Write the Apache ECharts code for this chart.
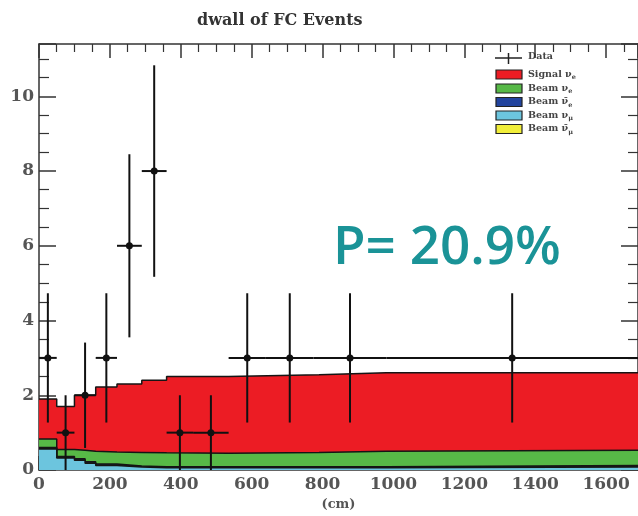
<!DOCTYPE html>
<html>
<head>
<meta charset="utf-8">
<script src="https://cdn.jsdelivr.net/npm/echarts@6/dist/echarts.min.js"></script>
<style>
  html, body { margin: 0; padding: 0; background: #fff; }
  #chart { width: 638px; height: 516px; }
</style>
</head>
<body>
<div id="chart"></div>
<script>
// Observed events: bin edges, counts and Poisson errors
const dataEdges = [0, 50, 100, 160, 220, 290, 360, 435, 535, 640, 775, 980, 1690];
const dataCounts = [3, 1, 2, 3, 6, 8, 1, 1, 3, 3, 3, 3];
const dataErrors = [1.73, 1, 1.41, 1.73, 2.45, 2.83, 1, 1, 1.73, 1.73, 1.73, 1.73];

// Predicted components (stacked, bottom to top), one value per MC bin
const mcEdges = [0, 50, 100, 130, 160, 220, 290, 360, 535, 790, 980, 1690];
const beamNumu    = [0.56, 0.32, 0.26, 0.18, 0.12, 0.08, 0.06, 0.06, 0.06, 0.06, 0.08];
const beamNumubar = [0.01, 0.01, 0.01, 0.01, 0.01, 0.01, 0.01, 0.01, 0.01, 0.01, 0.01];
const beamNuebar  = [0.03, 0.03, 0.03, 0.03, 0.03, 0.02, 0.02, 0.02, 0.02, 0.02, 0.03];
const beamNue     = [0.23, 0.19, 0.23, 0.28, 0.32, 0.36, 0.37, 0.36, 0.38, 0.41, 0.41];
const signalNue   = [1.07, 1.15, 1.47, 1.50, 1.74, 1.83, 1.94, 2.05, 2.08, 2.10, 2.07];

// Axis ticks
const xTicks = [0, 200, 400, 600, 800, 1000, 1200, 1400, 1600];
const yTicks = [0, 2, 4, 6, 8, 10];

const layers = [
  { name: 'Beam numu',    values: beamNumu,    color: '#6cc5de' },
  { name: 'Beam numubar', values: beamNumubar, color: '#f1ee3a' },
  { name: 'Beam nuebar',  values: beamNuebar,  color: '#22449e' },
  { name: 'Beam nue',     values: beamNue,     color: '#57b947' },
  { name: 'Signal nue',   values: signalNue,   color: '#ec1c24' }
];

// Cumulative tops for each layer, drawn as stepped filled outlines
const cumulative = [];
let running = mcEdges.slice(0, -1).map(() => 0);
layers.forEach(l => {
  running = running.map((v, i) => v + l.values[i]);
  cumulative.push(running.slice());
});

function stepPoints(tops) {
  const pts = tops.map((v, i) => [mcEdges[i], v]);
  pts.push([mcEdges[mcEdges.length - 1], tops[tops.length - 1]]);
  return pts;
}

const stackSeries = layers.map((l, k) => ({
  name: l.name,
  type: 'line',
  step: 'end',
  symbol: 'none',
  z: 2 + (layers.length - k),
  data: stepPoints(cumulative[k]),
  lineStyle: { color: '#151515', width: 1.5 },
  areaStyle: { color: l.color, opacity: 1 },
  silent: true
}));

const pointRows = dataCounts.map((c, i) => {
  const lo = dataEdges[i], hi = dataEdges[i + 1];
  return [(lo + hi) / 2, c, lo, hi, Math.max(0, c - dataErrors[i]), c + dataErrors[i]];
});

const serifFont = 'DejaVu Serif';
const labelColor = '#555';

const chart = echarts.init(document.getElementById('chart'), null, { renderer: 'canvas' });

function legendRow(y, color, main, sub, bar) {
  const items = [];
  items.push({
    type: 'rect', shape: { x: 496, y: y - 4.5, width: 26, height: 9 },
    style: { fill: color, stroke: '#222', lineWidth: 1.2 }
  });
  items.push({
    type: 'text', x: 528, y: y,
    style: {
      text: '{m|' + main + (bar ? 'ν\u0304' : 'ν') + '}{s|' + sub + '}',
      verticalAlign: 'middle',
      rich: {
        m: { fontFamily: serifFont, fontSize: 9.5, fontWeight: 'bold', fill: '#444' },
        s: { fontFamily: serifFont, fontSize: 6.5, fontWeight: 'bold', fill: '#444', padding: [6, 0, 0, 0] }
      }
    }
  });
  return items;
}

const legendElems = [
  { type: 'line', shape: { x1: 495, y1: 58, x2: 522, y2: 58 }, style: { stroke: '#222', lineWidth: 1.5 } },
  { type: 'line', shape: { x1: 508.5, y1: 53, x2: 508.5, y2: 64 }, style: { stroke: '#222', lineWidth: 1.5 } },
  { type: 'text', x: 528, y: 57, style: { text: 'Data', verticalAlign: 'middle', fontFamily: serifFont, fontSize: 9.5, fontWeight: 'bold', fill: '#444' } }
]
  .concat(legendRow(74.5, '#ec1c24', 'Signal ', 'e', false))
  .concat(legendRow(88.5, '#57b947', 'Beam ', 'e', false))
  .concat(legendRow(102, '#22449e', 'Beam ', 'e', true))
  .concat(legendRow(115.5, '#6cc5de', 'Beam ', 'μ', false))
  .concat(legendRow(129, '#f1ee3a', 'Beam ', 'μ', true));

const xBase = {
  type: 'value', min: 0, max: 1690, interval: 200,
  axisLine: { show: true, onZero: false, lineStyle: { color: '#333', width: 1.5 } },
  axisTick: { show: true, inside: true, length: 14, lineStyle: { color: '#333', width: 1.5 } },
  minorTick: { show: true, splitNumber: 4, length: 8, lineStyle: { color: '#333', width: 1.2 } },
  splitLine: { show: false }
};
const yBase = {
  type: 'value', min: 0, max: 11.4, interval: 2,
  axisLine: { show: true, onZero: false, lineStyle: { color: '#333', width: 1.5 } },
  axisTick: { show: true, inside: true, length: 17, lineStyle: { color: '#333', width: 1.5 } },
  minorTick: { show: true, splitNumber: 4, length: 10, lineStyle: { color: '#333', width: 1.2 } },
  splitLine: { show: false }
};

chart.setOption({
  animation: false,
  backgroundColor: '#fff',
  title: {
    text: 'dwall of FC Events',
    left: 192, top: 8,
    textStyle: { fontFamily: serifFont, fontSize: 16, fontWeight: 'bold', color: '#333' }
  },
  grid: { left: 39, right: -2, top: 44, bottom: 43, containLabel: false },
  xAxis: [
    Object.assign({}, xBase, {
      position: 'bottom',
      name: '(cm)', nameLocation: 'middle', nameGap: 28,
      nameTextStyle: { fontFamily: serifFont, fontSize: 13, fontWeight: 'bold', color: labelColor },
      axisLabel: {
        show: true, margin: 6, showMaxLabel: false,
        fontFamily: serifFont, fontSize: 17, fontWeight: 'bold', color: labelColor,
        formatter: v => (xTicks.indexOf(v) >= 0 ? String(v) : '')
      }
    }),
    Object.assign({}, xBase, { position: 'top', axisLabel: { show: false } })
  ],
  yAxis: [
    Object.assign({}, yBase, {
      position: 'left',
      axisLabel: {
        show: true, margin: 5, showMaxLabel: false,
        fontFamily: serifFont, fontSize: 17, fontWeight: 'bold', color: labelColor,
        formatter: v => (yTicks.indexOf(v) >= 0 ? String(v) : '')
      }
    }),
    Object.assign({}, yBase, { position: 'right', axisLabel: { show: false } })
  ],
  graphic: legendElems.concat([
    {
      type: 'text', left: 333, top: 222,
      style: {
        text: 'P= 20.9%', fontFamily: 'Open Sans', fontSize: 53, fontWeight: 600, fill: '#1a9397'
      }
    }
  ]),
  series: stackSeries.concat([
    {
      name: 'Data',
      type: 'custom',
      z: 20,
      data: pointRows,
      encode: { x: [0, 2, 3], y: [1, 4, 5] },
      renderItem: function (params, api) {
        const xc = api.value(0), y = api.value(1);
        const pc = api.coord([xc, y]);
        const pl = api.coord([api.value(2), y]);
        const ph = api.coord([api.value(3), y]);
        const pLo = api.coord([xc, api.value(4)]);
        const pHi = api.coord([xc, api.value(5)]);
        const stroke = { stroke: '#111', lineWidth: 2 };
        return {
          type: 'group',
          children: [
            { type: 'line', shape: { x1: pl[0], y1: pl[1], x2: ph[0], y2: ph[1] }, style: stroke },
            { type: 'line', shape: { x1: pLo[0], y1: pLo[1], x2: pHi[0], y2: pHi[1] }, style: stroke },
            { type: 'circle', shape: { cx: pc[0], cy: pc[1], r: 3.5 }, style: { fill: '#111' } }
          ]
        };
      }
    }
  ])
});
</script>
</body>
</html>
